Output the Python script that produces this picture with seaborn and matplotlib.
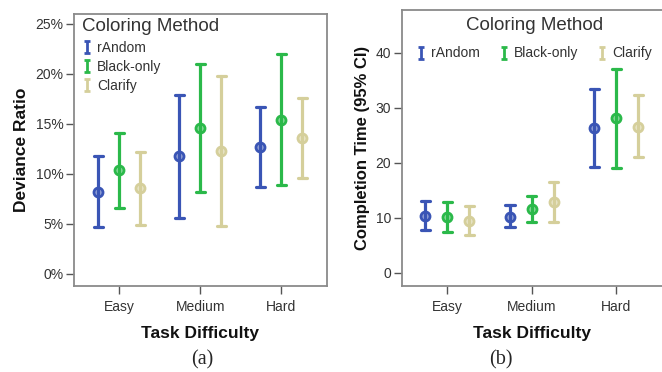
import numpy as np
import pandas as pd
import matplotlib
matplotlib.use("Agg")
import matplotlib.pyplot as plt
from matplotlib.lines import Line2D
from matplotlib.path import Path
import seaborn as sns

difficulty = ["Easy", "Medium", "Hard"]
methods = ["rAndom", "Black-only", "Clarify"]
colors = ["#3a55b5", "#2bb94a", "#d5cf9b"]

# Deviance ratio (%) : mean, lower CI, upper CI  (rows: method, cols: difficulty)
dev_mean = [[8.2, 11.8, 12.7], [10.4, 14.6, 15.4], [8.6, 12.3, 13.6]]
dev_low = [[4.7, 5.6, 8.7], [6.6, 8.2, 8.9], [4.9, 4.8, 9.6]]
dev_high = [[11.8, 17.9, 16.7], [14.1, 21.0, 22.0], [12.2, 19.8, 17.6]]

# Completion time : mean, lower CI, upper CI
time_mean = [[10.4, 10.2, 26.3], [10.2, 11.6, 28.1], [9.5, 12.9, 26.6]]
time_low = [[7.8, 8.3, 19.2], [7.4, 9.3, 19.0], [6.9, 9.3, 21.0]]
time_high = [[13.1, 12.4, 33.4], [12.9, 14.0, 37.1], [12.2, 16.5, 32.4]]


def build(mean, low, high):
    rows = []
    for i, m in enumerate(methods):
        for j, d in enumerate(difficulty):
            for v in (low[i][j], mean[i][j], high[i][j]):
                rows.append({"Task Difficulty": d, "Coloring Method": m, "value": v})
    return pd.DataFrame(rows)


df_dev = build(dev_mean, dev_low, dev_high)
df_time = build(time_mean, time_low, time_high)

sns.set_style("ticks")
plt.rcParams["font.family"] = ["Liberation Sans", "DejaVu Sans"]

fig = plt.figure(figsize=(6.62, 3.72), dpi=100)
ax1 = fig.add_axes([0.1118, 0.2312, 0.3817, 0.7312])
ax2 = fig.add_axes([0.6068, 0.2312, 0.3932, 0.7419])

common = dict(
    x="Task Difficulty", y="value", hue="Coloring Method",
    order=difficulty, hue_order=methods, palette=colors,
    estimator=np.median, errorbar=lambda v: (np.min(v), np.max(v)),
    dodge=0.52, linestyle="none", capsize=0.11,
    markers="o", markersize=6.5, err_kws={"linewidth": 2.3},
)
sns.pointplot(data=df_dev, ax=ax1, **common)
sns.pointplot(data=df_time, ax=ax2, **common)

# lighten marker faces
for ax in (ax1, ax2):
    for ln in ax.lines:
        if ln.get_marker() == "o":
            c = matplotlib.colors.to_rgb(ln.get_color())
            ln.set_markerfacecolor(tuple(0.55 * np.array(c) + 0.45))
            ln.set_markeredgewidth(2.0)
    if ax.get_legend() is not None:
        ax.get_legend().remove()

tick_col = "#333333"
for ax in (ax1, ax2):
    for s in ax.spines.values():
        s.set_color("#8a8a8a")
        s.set_linewidth(1.3)
    ax.tick_params(axis="both", colors="#555555", labelcolor=tick_col,
                   labelsize=10, length=5.5, width=1.0, direction="out")
    ax.tick_params(axis="x", pad=4.5)
    ax.tick_params(axis="y", pad=2)
    ax.set_xlabel("Task Difficulty", fontsize=12.5, fontweight="bold", color="#111111", labelpad=9)

ax2.spines["right"].set_visible(False)

ax1.set_xlim(-0.56, 2.56)
ax1.set_ylim(-1.2, 26)
ax1.set_yticks([0, 5, 10, 15, 20, 25])
ax1.set_yticklabels(["0%", "5%", "10%", "15%", "20%", "25%"])
ax1.set_ylabel("Deviance Ratio", fontsize=12.5, fontweight="bold", color="#111111", labelpad=5)

ax2.set_xlim(-0.54, 2.54)
ax2.set_ylim(-2.4, 47.8)
ax2.set_yticks([0, 10, 20, 30, 40])
ax2.set_ylabel("Completion Time (95% CI)", fontsize=12, fontweight="bold", color="#111111", labelpad=4)

# legend handles: capped error bar glyph
bar_path = Path([(-0.6, 1), (0.6, 1), (0, 1), (0, -1), (-0.6, -1), (0.6, -1)],
                [Path.MOVETO, Path.LINETO, Path.MOVETO, Path.LINETO, Path.MOVETO, Path.LINETO])
handles = [Line2D([], [], linestyle="none", marker=bar_path, markersize=8,
                  markeredgecolor=c, markerfacecolor="none", markeredgewidth=2.0)
           for c in colors]

leg1 = ax1.legend(handles, methods, title="Coloring Method", loc="upper left",
                  bbox_to_anchor=(0.0, 1.015), frameon=False, fontsize=10,
                  title_fontsize=13.5, handlelength=0.6, handletextpad=0.45,
                  labelspacing=0.38, borderaxespad=0.2)
leg1._legend_box.align = "left"
for t in leg1.get_texts():
    t.set_color(tick_col)
leg1.get_title().set_color(tick_col)

leg2 = ax2.legend(handles, methods, title="Coloring Method", loc="upper center",
                  bbox_to_anchor=(0.51, 1.005), ncol=3, frameon=False, fontsize=10,
                  title_fontsize=13.5, handlelength=0.6, handletextpad=0.4,
                  columnspacing=1.43, labelspacing=0.9, borderaxespad=0.2)
for t in leg2.get_texts():
    t.set_color(tick_col)
leg2.get_title().set_color(tick_col)

fig.text(0.306, 0.032, "(a)", fontsize=14.5, family=["Liberation Serif", "DejaVu Serif"],
         ha="center", va="center")
fig.text(0.756, 0.032, "(b)", fontsize=14.5, family=["Liberation Serif", "DejaVu Serif"],
         ha="center", va="center")

fig.savefig("out.png", dpi=100)
